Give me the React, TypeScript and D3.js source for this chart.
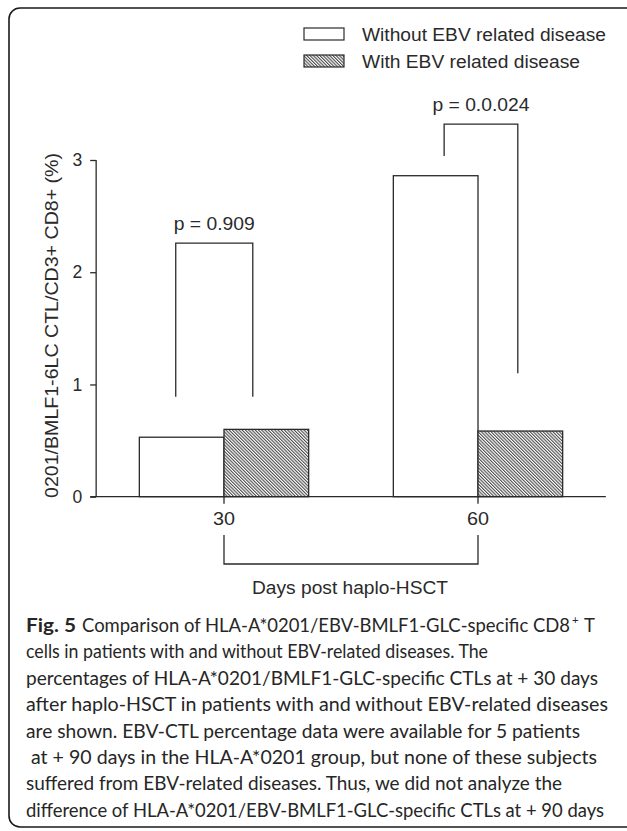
import React, { useRef, useEffect } from 'react';
import * as d3 from 'd3';

// values
const days = [30, 60];
const withoutEbv = [0.53, 2.86];
const withEbv = [0.6, 0.585];
const yTicks = [0, 1, 2, 3];
const legendLabels = ['Without EBV related disease', 'With EBV related disease'];
const pLabels = ['p = 0.909', 'p = 0.0.024'];
const bracketLeft = [24.3, 56.0];
const bracketRight = [33.4, 64.7];
const bracketTop = [2.26, 3.32];
const bracketLeftEnd = [0.89, 3.035];
const bracketRightEnd = [0.89, 1.1];
const yLabel = '0201/BMLF1-6LC CTL/CD3+ CD8+  (%)';
const xLabel = 'Days post haplo-HSCT';
const captionLines = [
  'Comparison of HLA-A*0201/EBV-BMLF1-GLC-specific CD8',
  'cells in patients with and without EBV-related diseases. The',
  'percentages of HLA-A*0201/BMLF1-GLC-specific CTLs at + 30 days',
  'after haplo-HSCT in patients with and without EBV-related diseases',
  'are shown. EBV-CTL percentage data were available for 5 patients',
  'at + 90 days in the HLA-A*0201 group, but none of these subjects',
  'suffered from EBV-related diseases. Thus, we did not analyze the',
  'difference of HLA-A*0201/EBV-BMLF1-GLC-specific CTLs at + 90 days'
];
const captionStarts = [82, 26, 26, 26, 26, 31, 26, 26];
const captionWidths = [488, 462, 572, 582, 554, 566, 536, 578];

const W = 627, H = 831;

const App = () => {
  const ref = useRef(null);

  useEffect(() => {
    const svg = d3.select(ref.current);
    svg.selectAll('*').remove();

    const font = '"Liberation Sans", Arial, sans-serif';
    const ink = '#2a2a2a';

    var x = d3.scaleLinear().domain([30, 60]).range([224, 478]);
    var y = d3.scaleLinear().domain([0, 3]).range([496.7, 160]);
    var barW = 10;

    var defs = svg.append('defs');
    defs.append('pattern')
      .attr('id', 'hatch')
      .attr('patternUnits', 'userSpaceOnUse')
      .attr('width', 2.3)
      .attr('height', 2.3)
      .attr('patternTransform', 'rotate(-45)')
      .call(p => p.append('rect').attr('width', 2.3).attr('height', 2.3).attr('fill', '#fff'))
      .append('line')
      .attr('x1', 0.6).attr('y1', 0).attr('x2', 0.6).attr('y2', 2.3)
      .attr('stroke', '#222').attr('stroke-width', 0.9);

    // frame
    svg.append('rect')
      .attr('x', 9).attr('y', 8).attr('width', 660).attr('height', 819)
      .attr('rx', 11)
      .attr('fill', 'none').attr('stroke', '#1a1a1a').attr('stroke-width', 1.6);

    // bars
    var g = svg.append('g');
    g.selectAll('rect.without')
      .data(days)
      .enter().append('rect')
      .attr('x', (d) => x(d - barW))
      .attr('y', (d, i) => y(withoutEbv[i]))
      .attr('width', x(barW) - x(0))
      .attr('height', (d, i) => y(0) - y(withoutEbv[i]))
      .attr('fill', '#fff').attr('stroke', ink).attr('stroke-width', 1.3);

    g.selectAll('rect.with')
      .data(days)
      .enter().append('rect')
      .attr('x', (d) => x(d))
      .attr('y', (d, i) => y(withEbv[i]))
      .attr('width', x(barW) - x(0))
      .attr('height', (d, i) => y(0) - y(withEbv[i]))
      .attr('fill', 'url(#hatch)').attr('stroke', ink).attr('stroke-width', 1.3);

    // y axis
    var yAxis = d3.axisLeft(y).tickValues(yTicks).tickSize(6).tickPadding(8).tickFormat(d3.format('d'));
    var ya = svg.append('g').attr('transform', 'translate(' + x(14.9) + ',0)').call(yAxis);
    ya.select('.domain').attr('d', 'M0,' + y(3) + 'V' + y(0)).attr('stroke', ink).attr('stroke-width', 1.3);
    ya.selectAll('line').attr('stroke', ink).attr('stroke-width', 1.3);
    ya.selectAll('text').attr('font-family', font).attr('font-size', 17.5).attr('fill', ink);

    // x axis
    svg.append('line')
      .attr('x1', x(14.2)).attr('x2', x(75.1))
      .attr('y1', y(0)).attr('y2', y(0))
      .attr('stroke', ink).attr('stroke-width', 1.3);
    svg.selectAll('line.xtick')
      .data(days).enter().append('line')
      .attr('x1', (d) => x(d)).attr('x2', (d) => x(d))
      .attr('y1', y(0)).attr('y2', y(0) + 7)
      .attr('stroke', ink).attr('stroke-width', 1.3);
    svg.selectAll('text.xtick')
      .data(days).enter().append('text')
      .attr('x', (d) => x(d)).attr('y', 525)
      .attr('text-anchor', 'middle')
      .attr('font-family', font).attr('font-size', 17.5).attr('fill', ink)
      .attr('textLength', 22).attr('lengthAdjust', 'spacingAndGlyphs')
      .text((d) => d);

    // bracket under x axis
    svg.append('path')
      .attr('d', 'M' + x(days[0]) + ',535V564H' + x(days[1]) + 'V535')
      .attr('fill', 'none').attr('stroke', ink).attr('stroke-width', 1.3);

    svg.append('text')
      .attr('x', 350).attr('y', 594)
      .attr('text-anchor', 'middle')
      .attr('font-family', font).attr('font-size', 17.5).attr('fill', ink)
      .attr('textLength', 196).attr('lengthAdjust', 'spacingAndGlyphs')
      .text(xLabel);

    // y label
    svg.append('text')
      .attr('transform', 'translate(58,325.5) rotate(-90)')
      .attr('text-anchor', 'middle')
      .attr('font-family', font).attr('font-size', 18.5).attr('fill', ink)
      .attr('textLength', 345).attr('lengthAdjust', 'spacingAndGlyphs')
      .text(yLabel);

    // significance brackets
    pLabels.forEach((lab, i) => {
      svg.append('path')
        .attr('d', 'M' + x(bracketLeft[i]) + ',' + y(bracketLeftEnd[i]) +
          'V' + y(bracketTop[i]) + 'H' + x(bracketRight[i]) + 'V' + y(bracketRightEnd[i]))
        .attr('fill', 'none').attr('stroke', ink).attr('stroke-width', 1.3);
      svg.append('text')
        .attr('x', (x(bracketLeft[i]) + x(bracketRight[i])) / 2)
        .attr('y', y(bracketTop[i]) - 13)
        .attr('text-anchor', 'middle')
        .attr('font-family', font).attr('font-size', 17.5).attr('fill', ink)
        .attr('textLength', i == 0 ? 81 : 97).attr('lengthAdjust', 'spacingAndGlyphs')
        .text(lab);
    });

    // legend
    var leg = svg.append('g');
    legendLabels.forEach((lab, i) => {
      leg.append('rect')
        .attr('x', 304).attr('y', 28 + i * 27).attr('width', 40).attr('height', 12)
        .attr('fill', i == 0 ? '#fff' : 'url(#hatch)')
        .attr('stroke', ink).attr('stroke-width', 1.2);
      leg.append('text')
        .attr('x', 362).attr('y', 41 + i * 27)
        .attr('font-family', font).attr('font-size', 17.5).attr('fill', ink)
        .attr('textLength', i == 0 ? 244 : 218).attr('lengthAdjust', 'spacingAndGlyphs')
        .text(lab);
    });

    // caption
    var capFont = 'Lato, "Open Sans", sans-serif';
    var cap = svg.append('g').attr('font-family', capFont).attr('fill', '#262626');
    cap.append('text')
      .attr('x', 26).attr('y', 632)
      .attr('font-size', 18.5).attr('font-weight', 'bold')
      .attr('textLength', 50).attr('lengthAdjust', 'spacingAndGlyphs')
      .text('Fig. 5');
    captionLines.forEach((line, i) => {
      cap.append('text')
        .attr('x', captionStarts[i])
        .attr('y', 632 + i * 26.4)
        .attr('font-size', 18.5)
        .attr('textLength', captionWidths[i]).attr('lengthAdjust', 'spacingAndGlyphs')
        .text(line);
    });
    cap.append('text')
      .attr('x', 572).attr('y', 624)
      .attr('font-size', 11.5)
      .text('+');
    cap.append('text')
      .attr('x', 584).attr('y', 632)
      .attr('font-size', 18.5)
      .text('T');
  }, []);

  return (
    <svg ref={ref} width={W} height={H}
      style={{ position: 'absolute', left: 0, top: 0, background: '#fff' }} />
  );
};

export default App;
